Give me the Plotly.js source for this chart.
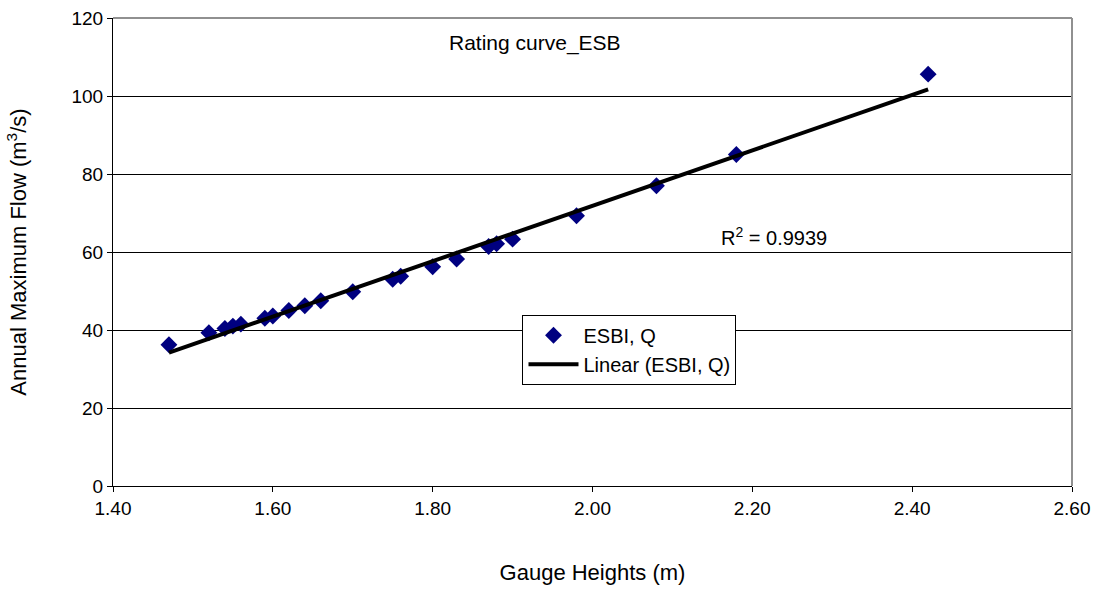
<!DOCTYPE html>
<html>
<head>
<meta charset="utf-8">
<script src="https://cdn.plot.ly/plotly-3.0.1.min.js"></script>
<style>html,body{margin:0;padding:0;background:#fff;}#chart{width:1099px;height:590px;}</style>
</head>
<body>
<div id="chart"></div>
<script>
const gaugeHeights = [1.47, 1.52, 1.54, 1.55, 1.56, 1.59, 1.60, 1.62, 1.64, 1.66, 1.70, 1.75, 1.76, 1.80, 1.83, 1.87, 1.88, 1.90, 1.98, 2.08, 2.18, 2.42];
const flows = [36.2, 39.3, 40.4, 41.0, 41.5, 43.0, 43.6, 45.0, 46.2, 47.5, 49.8, 53.0, 53.8, 56.2, 58.2, 61.4, 62.1, 63.3, 69.3, 77.0, 85.0, 105.6];
const xTicks = [1.40, 1.60, 1.80, 2.00, 2.20, 2.40, 2.60];
const xTickLabels = ["1.40", "1.60", "1.80", "2.00", "2.20", "2.40", "2.60"];
const yTicks = [0, 20, 40, 60, 80, 100, 120];
const rSquaredText = "R<sup>2</sup> = 0.9939";

// least-squares linear trend from the data
const n = gaugeHeights.length;
const mx = gaugeHeights.reduce((a, b) => a + b, 0) / n;
const my = flows.reduce((a, b) => a + b, 0) / n;
let sxy = 0, sxx = 0;
for (let i = 0; i < n; i++) { sxy += (gaugeHeights[i] - mx) * (flows[i] - my); sxx += (gaugeHeights[i] - mx) ** 2; }
const slope = sxy / sxx, intercept = my - slope * mx;
const trendX = [Math.min(...gaugeHeights), Math.max(...gaugeHeights)];
const trendY = trendX.map(x => intercept + slope * x);

const font = "Liberation Sans, Arial, sans-serif";
const data = [
  {x: gaugeHeights, y: flows, type: "scatter", mode: "markers", name: "ESBI, Q",
   marker: {symbol: "diamond", size: 13, color: "#000080"}},
  {x: trendX, y: trendY, type: "scatter", mode: "lines", name: "Linear (ESBI, Q)",
   line: {color: "#000000", width: 4}}
];
const layout = {
  width: 1099, height: 590,
  margin: {l: 113, r: 27, t: 18, b: 104},
  paper_bgcolor: "#fff", plot_bgcolor: "#fff",
  font: {family: font, size: 19, color: "#000"},
  showlegend: true,
  legend: {x: 0.427, y: 0.366, xanchor: "left", yanchor: "top", bgcolor: "#fff",
           bordercolor: "#000", borderwidth: 1, font: {family: font, size: 20}, tracegroupgap: 0,
           itemwidth: 50},
  xaxis: {range: [1.4, 2.6], tickvals: xTicks, ticktext: xTickLabels, showgrid: false, zeroline: false,
          showline: true, linecolor: "#000", linewidth: 1, ticks: "outside", ticklen: 5, tickcolor: "#000",
          tickfont: {family: font, size: 19},
          title: {text: "Gauge Heights (m)", font: {family: font, size: 22}, standoff: 46}},
  yaxis: {range: [0, 120], tickvals: yTicks, showgrid: true, gridcolor: "#000", gridwidth: 1, zeroline: false,
          showline: true, linecolor: "#000", linewidth: 1, ticks: "outside", ticklen: 5, tickcolor: "#000",
          tickfont: {family: font, size: 19},
          title: {text: "Annual Maximum Flow (m<sup>3</sup>/s)", font: {family: font, size: 22}, standoff: 38}},
  shapes: [
    {type: "line", xref: "paper", yref: "paper", x0: 0, x1: 1, y0: 1, y1: 1, line: {color: "#909090", width: 2}},
    {type: "line", xref: "paper", yref: "paper", x0: 1, x1: 1, y0: 0, y1: 1, line: {color: "#909090", width: 2}}
  ],
  annotations: [
    {text: "Rating curve_ESB", xref: "paper", yref: "paper", x: (535 - 113) / 959, y: (486 - 43) / 468,
     showarrow: false, font: {family: font, size: 21}, xanchor: "center", yanchor: "middle"},
    {text: rSquaredText, xref: "paper", yref: "paper", x: (774 - 113) / 959, y: (486 - 236) / 468,
     showarrow: false, font: {family: font, size: 20}, xanchor: "center", yanchor: "middle"}
  ]
};
Plotly.newPlot("chart", data, layout, {displayModeBar: false, staticPlot: true});
</script>
</body>
</html>
